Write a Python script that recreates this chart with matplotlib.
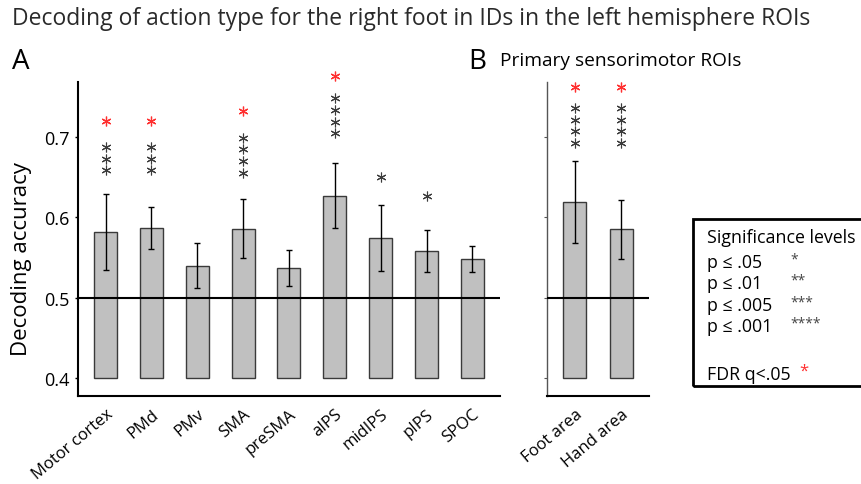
import numpy as np
import matplotlib
matplotlib.use("Agg")
import matplotlib.pyplot as plt
from matplotlib.patches import Rectangle

plt.rcParams['font.family'] = ['Open Sans', 'DejaVu Sans']

# =========================
# DATA
# =========================
rois_a = ["Motor cortex", "PMd", "PMv", "SMA", "preSMA", "aIPS", "midIPS", "pIPS", "SPOC"]
acc_a = [0.582, 0.587, 0.540, 0.586, 0.537, 0.627, 0.574, 0.558, 0.548]
sem_a = [0.047, 0.026, 0.028, 0.037, 0.022, 0.040, 0.041, 0.026, 0.016]
nstars_a = [3, 3, 0, 4, 0, 4, 1, 1, 0]
star_y_a = [0.673, 0.673, 0, 0.677, 0, 0.726, 0.650, 0.626, 0]
fdr_a = [True, True, False, True, False, True, False, False, False]
fdr_y_a = [0.720, 0.720, 0, 0.732, 0, 0.775, 0, 0, 0]

rois_b = ["Foot area", "Hand area"]
acc_b = [0.619, 0.585]
sem_b = [0.051, 0.037]
nstars_b = [4, 4]
star_y_b = [0.714, 0.714]
fdr_b = [True, True]
fdr_y_b = [0.762, 0.762]

legend_rows = ["p \u2264 .05", "p \u2264 .01", "p \u2264 .005", "p \u2264 .001"]
legend_stars = ["*", "**", "***", "****"]

CHANCE = 0.5
BASE = 0.4
YLIM = (0.378, 0.768)
STAR_STEP = 0.0145
BAR_COLOR = "#c0c0c0"
EDGE_COLOR = "#3a3a3a"
STAR_COLOR = "#3c3c3c"
RED = "#ff3030"


def draw_panel(ax, labels, acc, sem, nstars, star_y, fdr, fdr_y):
    x = np.arange(len(labels))
    heights = np.array(acc) - BASE
    ax.bar(x, heights, bottom=BASE, width=0.5, color=BAR_COLOR,
           edgecolor=EDGE_COLOR, linewidth=1.0, zorder=2)
    ax.errorbar(x, acc, yerr=sem, fmt="none", ecolor="black",
                elinewidth=1.0, capsize=2, capthick=1.0, zorder=3)
    ax.axhline(CHANCE, color="black", linewidth=1.5, zorder=4)

    # stars
    for i in range(len(labels)):
        n = nstars[i]
        if n > 0:
            ys = star_y[i] + (np.arange(n) - (n - 1) / 2) * STAR_STEP
            ax.plot([x[i]] * n, ys, linestyle="none", marker=(6, 2, 0),
                    markersize=7, markeredgewidth=0.8, color=STAR_COLOR,
                    clip_on=False, zorder=5)
        if fdr[i]:
            ax.plot([x[i]], [fdr_y[i]], linestyle="none", marker=(6, 2, 0),
                    markersize=7, markeredgewidth=0.9, color=RED,
                    clip_on=False, zorder=5)

    ax.set_xlim(-0.6, len(labels) - 0.4)
    ax.set_ylim(*YLIM)
    ax.set_xticks(x)
    ax.set_xticklabels(labels, rotation=40, ha="right", rotation_mode="anchor",
                       fontsize=12)
    ax.tick_params(axis="x", length=0, pad=7)
    ax.spines["top"].set_visible(False)
    ax.spines["right"].set_visible(False)


fig = plt.figure(figsize=(8.61, 4.85), dpi=100)

# =========================
# PANEL A
# =========================
ax_a = fig.add_axes([0.0906, 0.1814, 0.490, 0.6474])
draw_panel(ax_a, rois_a, acc_a, sem_a, nstars_a, star_y_a, fdr_a, fdr_y_a)
ax_a.set_yticks([0.4, 0.5, 0.6, 0.7])
ax_a.set_yticklabels(["0.4", "0.5", "0.6", "0.7"], fontsize=13)
ax_a.tick_params(axis="y", length=2, width=1, pad=4)
ax_a.spines["left"].set_linewidth(1.5)
ax_a.spines["bottom"].set_linewidth(1.5)
ax_a.set_ylabel("Decoding accuracy", fontsize=16)
ax_a.yaxis.set_label_coords(-0.108, 0.44)

# =========================
# PANEL B
# =========================
ax_b = fig.add_axes([0.6353, 0.1814, 0.1185, 0.6474])
draw_panel(ax_b, rois_b, acc_b, sem_b, nstars_b, star_y_b, fdr_b, fdr_y_b)
ax_b.set_yticks([0.4, 0.5, 0.6, 0.7])
ax_b.set_yticklabels([])
ax_b.tick_params(axis="y", length=2, width=0.8, color="#555555")
ax_b.spines["left"].set_linewidth(1.0)
ax_b.spines["left"].set_color("#555555")
ax_b.spines["bottom"].set_linewidth(1.5)

# =========================
# TEXTS
# =========================
fig.text(12 / 861, 1 - 19 / 485,
         "Decoding of action type for the right foot in IDs in the left hemisphere ROIs",
         fontsize=16.5, color="#2a2a2a", ha="left", va="center")
fig.text(12 / 861, 1 - 62 / 485, "A", fontsize=20, ha="left", va="center")
fig.text(468 / 861, 1 - 62 / 485, "B", fontsize=20, ha="left", va="center")
fig.text(500 / 861, 1 - 61 / 485, "Primary sensorimotor ROIs", fontsize=13.8,
         ha="left", va="center")

# =========================
# LEGEND BOX
# =========================
fig.patches.append(Rectangle((693 / 861, 1 - 387 / 485), 0.5, 167 / 485,
                             transform=fig.transFigure, fill=False,
                             edgecolor="black", linewidth=2))
leg_x = 707 / 861
fig.text(leg_x, 1 - 238 / 485, "Significance levels", fontsize=12.8, va="center")
row_y = [263, 284, 306, 327]
for lab, st, yy in zip(legend_rows, legend_stars, row_y):
    fig.text(leg_x, 1 - yy / 485, lab, fontsize=12.8, va="center")
    fig.text(790 / 861, 1 - (yy - 3) / 485, st, fontsize=10, va="center",
             color="#444444")
fig.text(leg_x, 1 - 375 / 485, "FDR q<.05", fontsize=12.8, va="center")
fig.text(799 / 861, 1 - 372 / 485, "*", fontsize=12, va="center", color=RED)

fig.savefig("out.png", dpi=100)
